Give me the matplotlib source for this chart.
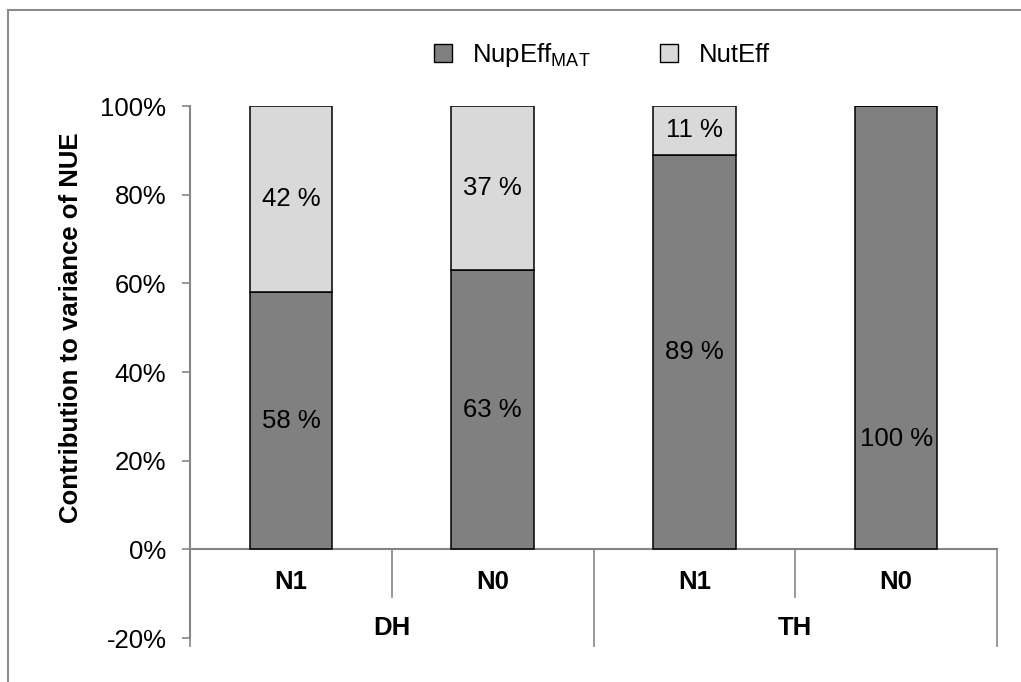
import matplotlib
matplotlib.use("Agg")
import matplotlib.pyplot as plt
from matplotlib.patches import Patch
from matplotlib.lines import Line2D
from matplotlib.ticker import FuncFormatter

plt.rcParams['font.family'] = ['Liberation Sans', 'DejaVu Sans']
plt.rcParams['mathtext.fontset'] = 'custom'
plt.rcParams['mathtext.rm'] = 'Liberation Sans'
plt.rcParams['mathtext.it'] = 'Liberation Sans:italic'
plt.rcParams['mathtext.bf'] = 'Liberation Sans:bold'

# ---- data ----
sub_labels = ["N1", "N0", "N1", "N0"]
group_labels = ["DH", "TH"]
nupeff = [58, 63, 89, 100]
nuteff = [42, 37, 11, 0]
series_names = ["NupEff$_{\\mathrm{MAT}}$", "NutEff"]
y_ticks = [-20, 0, 20, 40, 60, 80, 100]

dark = "#808080"
light = "#D9D9D9"
axis_gray = "#868686"
fs = 18.5

fig = plt.figure(figsize=(10.21, 6.82), dpi=100)
ax = fig.add_axes([190/1021, 1-638/682, (997-190)/1021, (638-106)/682])

x = list(range(len(sub_labels)))
w = 0.41
ax.bar(x, nupeff, width=w, color=dark, edgecolor="black", linewidth=1.1, zorder=3)
ax.bar(x, nuteff, width=w, bottom=nupeff, color=light, edgecolor="black", linewidth=1.1, zorder=3)

for xi, a, b in zip(x, nupeff, nuteff):
    if a > 0:
        # label sits lower in the reference when the bar is a single full segment
        ya = a / 2 if b > 0 else a / 4
        ax.text(xi, ya, f"{a} %", ha="center", va="center", fontsize=fs, zorder=4)
    if b > 0:
        ax.text(xi, a + b/2, f"{b} %", ha="center", va="center", fontsize=fs, zorder=4)

ax.set_xlim(-0.5, len(x) - 0.5)
ax.set_ylim(-20, 100)
ax.set_yticks(y_ticks)
ax.yaxis.set_major_formatter(FuncFormatter(lambda v, p: f"{int(v)}%"))
ax.tick_params(axis="y", labelsize=fs, length=6, width=1.2, color=axis_gray, pad=11)
ax.set_xticks([])
for s in ["top", "right", "bottom"]:
    ax.spines[s].set_visible(False)
ax.spines["left"].set_color(axis_gray)
ax.spines["left"].set_linewidth(1.5)

ax.set_ylabel("Contribution to variance of NUE", fontsize=fs, fontweight="bold")
ax.yaxis.set_label_coords(-0.133, (50 + 20) / 120)

# category axis at 0
ax.plot([-0.5, len(x) - 0.5], [0, 0], color=axis_gray, lw=1.5, zorder=2, clip_on=False)
for xi, lab in zip(x, sub_labels):
    ax.text(xi, -7.4, lab, ha="center", va="center", fontsize=fs, fontweight="bold")
# small separators between sub-categories
for sep in [0.5, 2.5]:
    ax.plot([sep, sep], [0, -10.8], color=axis_gray, lw=1.2, clip_on=False)
# group separators
for sep in [-0.5, 1.5, 3.5]:
    ax.plot([sep, sep], [0, -21.7], color=axis_gray, lw=1.2, clip_on=False)
for gi, g in enumerate(group_labels):
    ax.text(gi*2 + 0.5, -17.8, g, ha="center", va="center", fontsize=fs, fontweight="bold")

# legend
handles = [Patch(facecolor=dark, edgecolor="black", linewidth=1.0),
           Patch(facecolor=light, edgecolor="black", linewidth=1.0)]
fig.legend(handles, series_names, loc="center", bbox_to_anchor=(602/1021, 1-55/682),
           ncol=2, frameon=False, fontsize=fs, handlelength=0.7, handleheight=0.7,
           columnspacing=2.7, handletextpad=0.8)

# outer chart border (partially cropped)
fig.add_artist(Line2D([8/1021, 1], [1-10/682, 1-10/682], color="#8c8c8c", lw=1.5))
fig.add_artist(Line2D([8/1021, 8/1021], [0, 1-10/682], color="#8c8c8c", lw=1.5))

fig.savefig("out.png", dpi=100)
